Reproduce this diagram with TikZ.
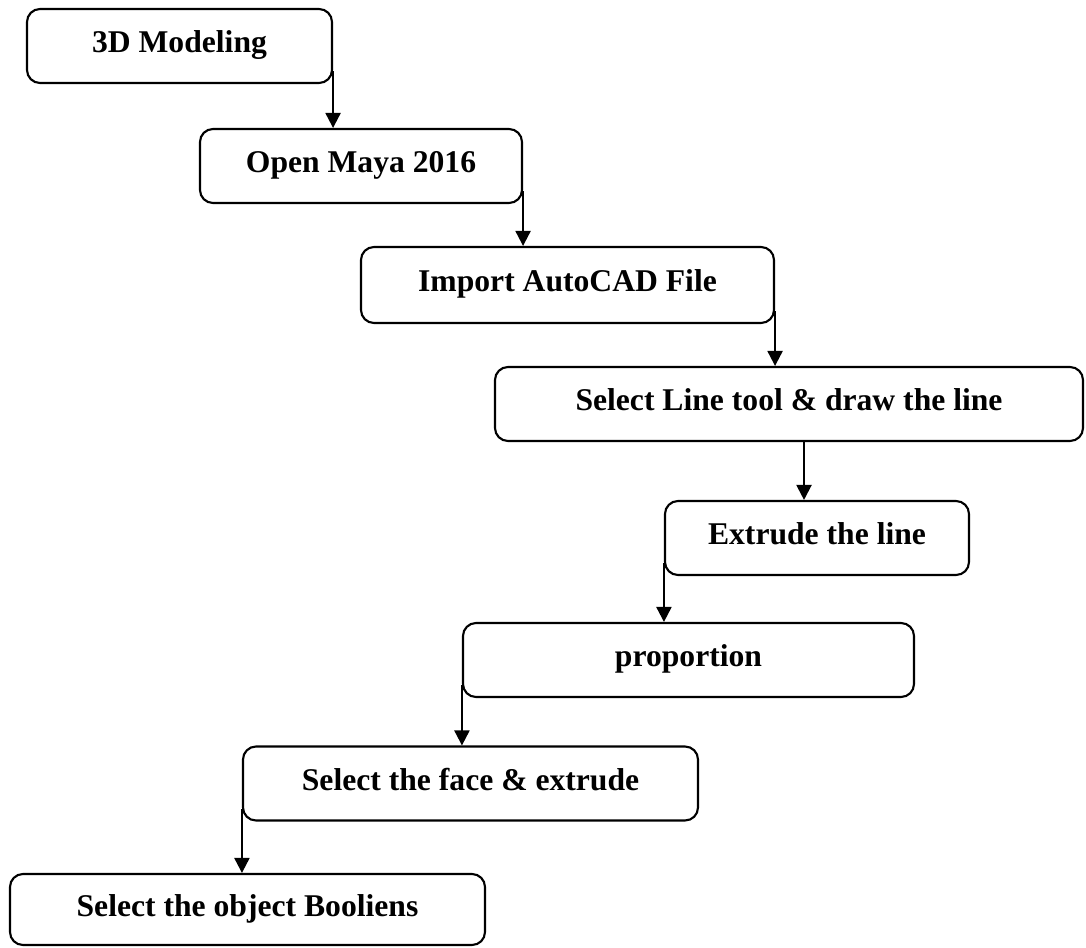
\documentclass[tikz,border=0pt]{standalone}
\usepackage{fontspec}
\setmainfont{Liberation Serif}
\usepackage{tikz}
\usetikzlibrary{arrows.meta, calc}

\begin{document}
\begin{tikzpicture}[
    stepbox/.style={draw, line width=1.2pt, rounded corners=0.26cm, inner sep=0pt,
        minimum height=1.48cm, text height=0.45cm, text depth=0.19cm,
        font=\fontsize{18}{22}\selectfont\bfseries},
    flowarrow/.style={line width=1.2pt, -{Triangle[length=0.3cm, width=0.3cm]}}
]
    % Page frame
    \useasboundingbox (0,0) rectangle (21.72,-18.94);

    % Steps
    \node[stepbox, minimum width=6.10cm] (model) at (3.59,-0.92) {3D Modeling};
    \node[stepbox, minimum width=6.44cm] (maya) at (7.22,-3.32) {Open Maya 2016};
    \node[stepbox, minimum width=8.26cm, minimum height=1.52cm] (import) at (11.35,-5.70) {Import AutoCAD File};
    \node[stepbox, minimum width=11.76cm] (linetool) at (15.78,-8.08) {Select Line tool \& draw the line};
    \node[stepbox, minimum width=6.08cm] (extrude) at (16.34,-10.76) {Extrude the line};
    \node[stepbox, minimum width=9.02cm] (proportion) at (13.77,-13.20) {proportion};
    \node[stepbox, minimum width=9.10cm] (face) at (9.41,-15.67) {Select the face \& extrude};
    \node[stepbox, minimum width=9.50cm, minimum height=1.42cm] (boolean) at (4.95,-18.19) {Select the object Booliens};

    % Arrows down the staircase
    \coordinate (drop) at ($(linetool.south)+(0.30,0)$);
    \draw[flowarrow] ($(model.south east)+(0,0.26)$) -- (model.east |- maya.north);
    \draw[flowarrow] ($(maya.south east)+(0,0.26)$) -- (maya.east |- import.north);
    \draw[flowarrow] ($(import.south east)+(0,0.26)$) -- (import.east |- linetool.north);
    \draw[flowarrow] (drop) -- (drop |- extrude.north);
    \draw[flowarrow] ($(extrude.south west)+(0,0.26)$) -- (extrude.west |- proportion.north);
    \draw[flowarrow] ($(proportion.south west)+(0,0.26)$) -- (proportion.west |- face.north);
    \draw[flowarrow] ($(face.south west)+(0,0.26)$) -- (face.west |- boolean.north);
\end{tikzpicture}
\end{document}
